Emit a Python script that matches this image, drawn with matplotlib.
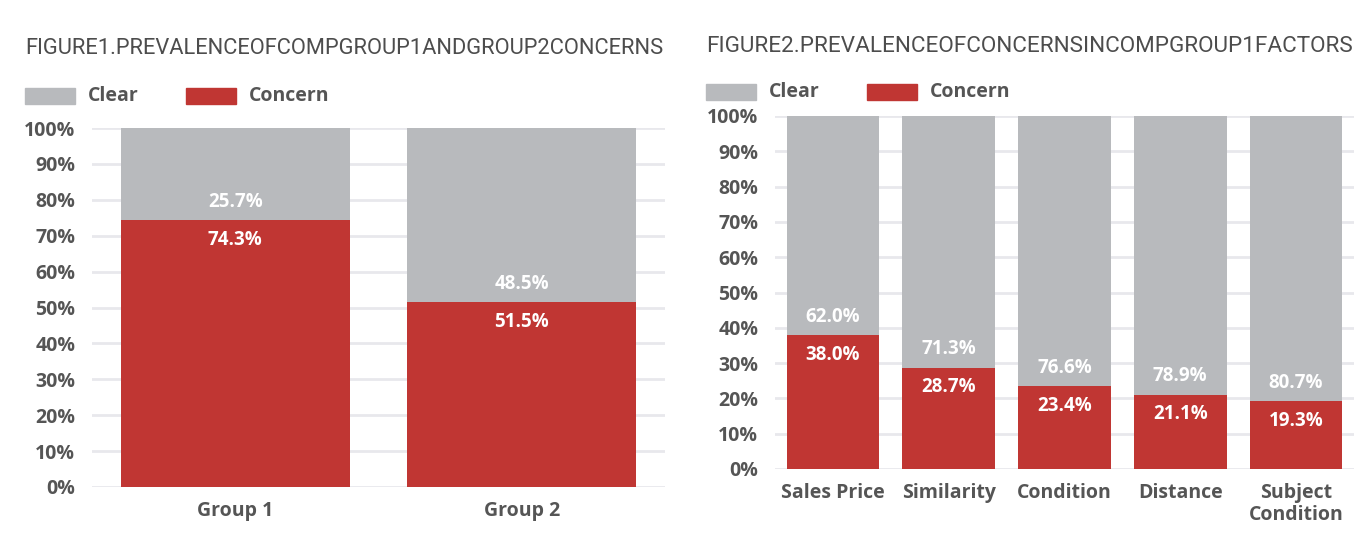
import matplotlib
matplotlib.use("Agg")
import matplotlib.pyplot as plt
from matplotlib.patches import Rectangle

# data
groups = ["Group 1", "Group 2"]
group_concern = [74.3, 51.5]
group_clear = [25.7, 48.5]

factors = ["Sales Price", "Similarity", "Condition", "Distance", "Subject\nCondition"]
factor_concern = [38.0, 28.7, 23.4, 21.1, 19.3]
factor_clear = [62.0, 71.3, 76.6, 78.9, 80.7]

title1 = "FIGURE1.PREVALENCEOFCOMPGROUP1ANDGROUP2CONCERNS"
title2 = "FIGURE2.PREVALENCEOFCONCERNSINCOMPGROUP1FACTORS"

GRAY = "#b8babd"
RED = "#c03633"
TXT = "#555555"
GRID = "#e8e8ec"
FONT = ["Open Sans", "DejaVu Sans"]
TITLE_FONT = ["Roboto", "DejaVu Sans"]

W, H = 1372, 556
fig = plt.figure(figsize=(W / 100, H / 100), dpi=100)


def px_axes(x0, y0, x1, y1):
    # pixel box (top-left origin) -> figure axes
    return fig.add_axes([x0 / W, 1 - y1 / H, (x1 - x0) / W, (y1 - y0) / H])


def draw(ax, cats, concern, clear):
    x = range(len(cats))
    ax.bar(x, concern, width=0.8, color=RED, zorder=3)
    ax.bar(x, clear, bottom=concern, width=0.8, color=GRAY, zorder=3)
    for i in x:
        ax.annotate(f"{clear[i]:.1f}%", (i, concern[i]), xytext=(0, 6),
                    textcoords="offset points", ha="center", va="bottom",
                    color="white", fontsize=13.5, fontweight="bold", family=FONT, zorder=4)
        ax.annotate(f"{concern[i]:.1f}%", (i, concern[i]), xytext=(0, -7),
                    textcoords="offset points", ha="center", va="top",
                    color="white", fontsize=13.5, fontweight="bold", family=FONT, zorder=4)
    ax.set_xlim(-0.5, len(cats) - 0.5)
    ax.set_ylim(0, 100)
    ax.set_yticks(range(0, 101, 10))
    ax.set_yticklabels([f"{v}%" for v in range(0, 101, 10)])
    ax.set_xticks(list(x))
    ax.set_xticklabels(cats, linespacing=1.15)
    for s in ax.spines.values():
        s.set_visible(False)
    ax.grid(axis="y", color=GRID, linewidth=2, zorder=0)
    ax.tick_params(axis="y", length=0, pad=12, labelsize=14, labelcolor=TXT)
    ax.tick_params(axis="x", length=0, pad=10, labelsize=14, labelcolor=TXT)
    for lab in ax.get_yticklabels() + ax.get_xticklabels():
        lab.set_fontweight("bold")
        lab.set_family(FONT)


ax1 = px_axes(92, 128, 665, 487)
draw(ax1, groups, group_concern, group_clear)

ax2 = px_axes(775, 116, 1354, 469)
draw(ax2, factors, factor_concern, factor_clear)


def legend(x, y):
    for dx, col, name in [(0, GRAY, "Clear"), (161, RED, "Concern")]:
        fig.patches.append(Rectangle(((x + dx) / W, 1 - (y + 8) / H), 50 / W, 16 / H,
                                     transform=fig.transFigure, color=col))
        fig.text((x + dx + 63) / W, 1 - y / H, name, ha="left", va="center",
                 fontsize=14, fontweight="bold", color=TXT, family=FONT)


legend(25, 96)
legend(706, 92)

# titles: shrink the font until the line fits the width of its panel
renderer = fig.canvas.get_renderer()
for x0, x1, y, txt in [(25, 665, 48, title1), (706, 1352, 47, title2)]:
    t = fig.text(x0 / W, 1 - y / H, txt, ha="left", va="center", fontsize=20,
                 color="#4d4d4d", family=TITLE_FONT)
    w = t.get_window_extent(renderer).width
    t.set_fontsize(20 * (x1 - x0) / w)

fig.savefig("out.png", dpi=100)
